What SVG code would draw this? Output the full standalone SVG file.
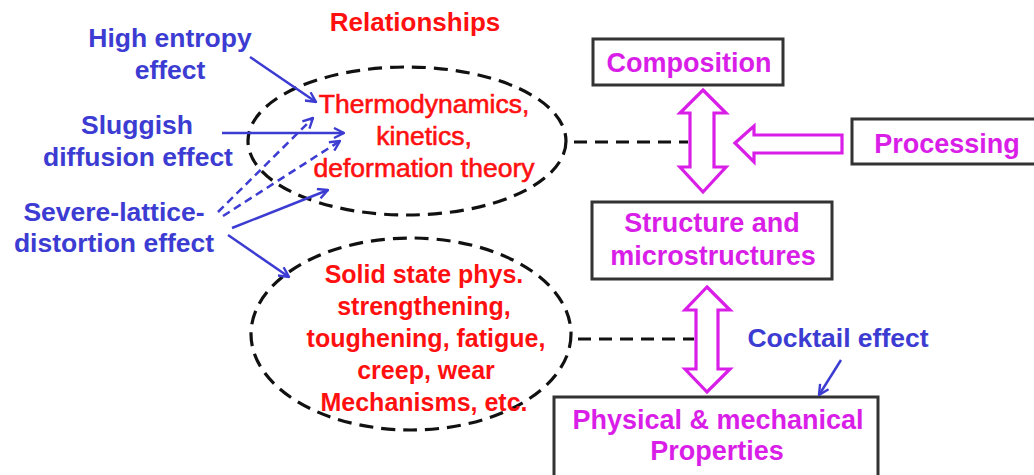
<svg xmlns="http://www.w3.org/2000/svg" width="1034" height="475" viewBox="0 0 1034 475">
<defs>
<marker id="ah" viewBox="0 0 12 12" refX="11" refY="6" markerWidth="12" markerHeight="12" markerUnits="userSpaceOnUse" orient="auto">
<path d="M1,1 L11,6 L1,11" fill="none" stroke="#3c3cd2" stroke-width="2.4"/>
</marker>
</defs>
<style>
.blue{font-family:"Liberation Sans",Arial,sans-serif;font-weight:bold;font-size:26.5px;fill:#3c3cd2;text-anchor:middle}
.red{font-family:"Liberation Sans",Arial,sans-serif;font-size:26.5px;fill:#ff1010;stroke:#ff1010;stroke-width:0.6;text-anchor:middle}
.redb{font-family:"Liberation Sans",Arial,sans-serif;font-weight:bold;font-size:25px;fill:#ff1010;text-anchor:middle}
.mag{font-family:"Liberation Sans",Arial,sans-serif;font-weight:bold;font-size:27px;fill:#d91ee8;text-anchor:middle}
.box{fill:#fff;stroke:#333;stroke-width:3}
.ell{fill:none;stroke:#111;stroke-width:3.2;stroke-dasharray:14 8}
.dl{fill:none;stroke:#111;stroke-width:3;stroke-dasharray:13 8}
.barr{fill:#fff;stroke:#d91ee8;stroke-width:3.2;stroke-linejoin:miter}
.bl{fill:none;stroke:#3c3cd2;stroke-width:2.5;marker-end:url(#ah)}
.bld{fill:none;stroke:#3c3cd2;stroke-width:2.5;stroke-dasharray:8 5;marker-end:url(#ah)}
</style>
<rect width="1034" height="475" fill="#fff"/>

<text class="redb" x="415" y="31" style="font-size:26px">Relationships</text>

<g id="high-entropy"><text class="blue" x="170" y="47">High entropy</text><text class="blue" x="170" y="79">effect</text></g>
<g id="sluggish"><text class="blue" x="137" y="134">Sluggish</text><text class="blue" x="138" y="166">diffusion effect</text></g>
<g id="severe"><text class="blue" x="114" y="221">Severe-lattice-</text><text class="blue" x="114" y="252">distortion effect</text></g>

<g id="thermo">
<ellipse class="ell" cx="407" cy="141" rx="159" ry="74"/>
<text class="red" x="424" y="113">Thermodynamics,</text>
<text class="red" x="424" y="145">kinetics,</text>
<text class="red" x="424" y="177">deformation theory</text>
</g>

<g id="solid">
<ellipse class="ell" cx="411" cy="334" rx="160" ry="96"/>
<text class="redb" x="424" y="283">Solid state phys.</text>
<text class="redb" x="424" y="315">strengthening,</text>
<text class="redb" x="426" y="347">toughening, fatigue,</text>
<text class="redb" x="426" y="379">creep, wear</text>
<text class="redb" x="424" y="411">Mechanisms, etc.</text>
</g>

<g id="composition"><rect class="box" x="593" y="39" width="190" height="46"/><text class="mag" x="689" y="72">Composition</text></g>
<g id="processing"><rect class="box" x="852" y="119" width="190" height="45"/><text class="mag" x="947" y="153">Processing</text></g>
<g id="structure"><rect class="box" x="592" y="202" width="240" height="77"/><text class="mag" x="712" y="232">Structure and</text><text class="mag" x="713" y="265">microstructures</text></g>
<g id="properties"><rect class="box" x="554" y="397" width="324" height="90"/><text class="mag" x="718" y="429">Physical &amp; mechanical</text><text class="mag" x="717" y="460">Properties</text></g>
<g id="cocktail"><text class="blue" x="838" y="347">Cocktail effect</text></g>

<g id="connectors">
<path class="barr" d="M703,90 L726,113 L714,113 L714,167 L726,167 L703,192 L680,167 L690,167 L690,113 L680,113 Z"/>
<path class="barr" d="M707,287 L730,310 L718,310 L718,369 L730,369 L707,392 L685,369 L696,369 L696,310 L685,310 Z"/>
<path class="barr" d="M735,143 L754,126 L754,135 L842,135 L842,153 L754,153 L754,162 Z"/>
<line class="dl" x1="574" y1="142" x2="688" y2="142"/>
<line class="dl" x1="578" y1="339" x2="694" y2="339"/>
<line class="bl" x1="250" y1="57" x2="316" y2="102"/>
<line class="bl" x1="222" y1="133" x2="344" y2="133"/>
<line class="bld" x1="218" y1="212" x2="313" y2="118"/>
<line class="bld" x1="223" y1="216" x2="340" y2="141"/>
<line class="bl" x1="232" y1="228" x2="328" y2="190"/>
<line class="bl" x1="228" y1="235" x2="289" y2="277"/>
<line class="bl" x1="841" y1="360" x2="819" y2="395"/>
</g>
</svg>
